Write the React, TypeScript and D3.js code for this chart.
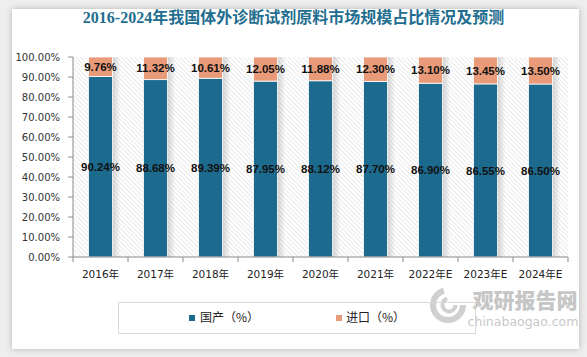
import React from 'react';
import * as d3 from 'd3';

const categories = ['2016年', '2017年', '2018年', '2019年', '2020年', '2021年', '2022年E', '2023年E', '2024年E'];
const domestic = [90.24, 88.68, 89.39, 87.95, 88.12, 87.7, 86.9, 86.55, 86.5];
const imported = [9.76, 11.32, 10.61, 12.05, 11.88, 12.3, 13.1, 13.45, 13.5];
const yTicks = [0, 10, 20, 30, 40, 50, 60, 70, 80, 90, 100];
const seriesNames = ['国产（%）', '进口（%）'];
const title = '2016-2024年我国体外诊断试剂原料市场规模占比情况及预测';

const BLUE = '#1C6A8E';
const ORANGE = '#E89A79';

export default function App() {
  const W = 587, H = 357;
  const left = 73, right = 568, top = 57, bottom = 257;
  const x = d3.scaleBand<string>().domain(categories).range([left, right]).paddingInner(0.5636).paddingOuter(0.2818);
  const y = d3.scaleLinear().domain([0, 100]).range([bottom, top]);
  const bw = x.bandwidth();
  const fmt = (v: number) => v.toFixed(2) + '%';

  return (
    <div style={{ position: 'absolute', left: 0, top: 0 }}>
      <svg width={W} height={H} style={{ display: 'block' }}>
        <defs>
          <pattern id="hatch" width="3.2" height="3.2" patternUnits="userSpaceOnUse" patternTransform="rotate(-45)">
            <rect width="3.2" height="3.2" fill="#ffffff" />
            <line x1="0" y1="0" x2="0" y2="3.2" stroke="#d6d6d6" strokeWidth="1" />
          </pattern>
          <filter id="shadow" x="-5%" y="-5%" width="110%" height="110%">
            <feDropShadow dx="0" dy="0" stdDeviation="3" floodColor="#000" floodOpacity="0.25" />
          </filter>
          <linearGradient id="barShadow" x1="0" x2="1" y1="0" y2="0">
            <stop offset="0" stopColor="#888" stopOpacity="0.35" />
            <stop offset="1" stopColor="#888" stopOpacity="0" />
          </linearGradient>
        </defs>
        <rect x={0} y={0} width={W} height={H} fill="#eeeeee" />
        <rect x={12} y={9} width={567} height={340} fill="#ffffff" filter="url(#shadow)" />

        <text x={293.5} y={23} textAnchor="middle" fontFamily="'Liberation Serif', 'Noto Sans CJK SC'" fontWeight="bold" fontSize={16} fill="#1F6E8F">{title}</text>

        {/* plot area */}
        <rect x={left} y={top} width={right - left} height={bottom - top} fill="url(#hatch)" />

        {/* bars */}
        {categories.map((c, i) => {
          const bx = x(c)!;
          const d = domestic[i];
          const im = imported[i];
          const yD = y(d);
          const yTop = y(d + im);
          return (
            <g key={c}>
              <rect x={bx + bw} y={yTop} width={8} height={bottom - yTop} fill="url(#barShadow)" />
              <rect x={bx} y={yD} width={bw} height={bottom - yD} fill={BLUE} stroke="#fff" strokeWidth={0.8} />
              <rect x={bx} y={yTop} width={bw} height={yD - yTop} fill={ORANGE} stroke="#fff" strokeWidth={0.8} />
              <text x={bx + bw / 2} y={(yTop + yD) / 2} dy="0.36em" textAnchor="middle" fontFamily="'Liberation Sans'" fontWeight="bold" fontSize={11.5} fill="#111">{fmt(im)}</text>
              <text x={bx + bw / 2} y={(yD + bottom) / 2} dy="0.36em" textAnchor="middle" fontFamily="'Liberation Sans'" fontWeight="bold" fontSize={11.5} fill="#111">{fmt(d)}</text>
            </g>
          );
        })}

        {/* y axis */}
        <line x1={left} x2={left} y1={top} y2={bottom} stroke="#8a8a8a" />
        {yTicks.map(t => (
          <g key={t}>
            <line x1={left - 5} x2={left} y1={y(t)} y2={y(t)} stroke="#8a8a8a" />
            <text x={60} y={y(t)} dy="0.36em" textAnchor="end" fontFamily="'DejaVu Sans'" fontSize={10} fill="#333">{t.toFixed(2) + '%'}</text>
          </g>
        ))}

        {/* x axis */}
        <line x1={left} x2={right} y1={bottom} y2={bottom} stroke="#8a8a8a" />
        {categories.map((c, i) => {
          const tx = left + x.step() * i;
          return <line key={'t' + c} x1={tx} x2={tx} y1={bottom} y2={bottom + 5} stroke="#8a8a8a" />;
        })}
        <line x1={right} x2={right} y1={bottom} y2={bottom + 5} stroke="#8a8a8a" />
        {categories.map(c => (
          <text key={'l' + c} x={x(c)! + bw / 2} y={274} dy="0.36em" textAnchor="middle" fontFamily="'DejaVu Sans', 'Noto Sans CJK SC'" fontSize={10.5} fill="#222">{c}</text>
        ))}

        {/* watermark */}
        <g>
          <circle cx={448} cy={305} r={15} fill="none" stroke="#d0d0d0" strokeWidth={6} strokeDasharray="66 28" />
          <circle cx={449} cy={305} r={6.5} fill="none" stroke="#d0d0d0" strokeWidth={4} strokeDasharray="28 13" />
          <text x={525} y={300} dy="0.36em" textAnchor="middle" fontFamily="'Noto Sans CJK SC'" fontWeight="900" fontSize={21} fill="#c6c6c6">观研报告网</text>
          <text x={523} y={321} dy="0.36em" textAnchor="middle" fontFamily="'DejaVu Sans'" fontSize={12.5} fill="#c9c9c9">chinabaogao.com</text>
        </g>

        {/* legend */}
        <rect x={118.5} y={302.5} width={357} height={31} fill="none" stroke="#d9d9d9" />
        <rect x={189} y={315} width={6} height={6} fill={BLUE} />
        <text x={200} y={318} dy="0.36em" fontFamily="'Noto Sans CJK SC'" fontSize={12} fill="#222">{seriesNames[0]}</text>
        <rect x={336} y={315} width={6} height={6} fill={ORANGE} />
        <text x={346} y={318} dy="0.36em" fontFamily="'Noto Sans CJK SC'" fontSize={12} fill="#222">{seriesNames[1]}</text>
      </svg>
    </div>
  );
}
